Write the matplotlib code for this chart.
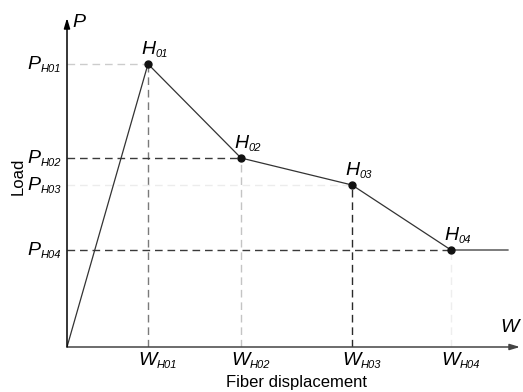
"""
load vs fiber displacement diagram with characteristic points H01..H04
"""
import matplotlib
matplotlib.use("Agg")
import matplotlib.pyplot as plt

# characteristic points (arbitrary units)
names = ["01", "02", "03", "04"]
w_vals = [0.81, 1.74, 2.85, 3.84]
p_vals = [2.83, 1.89, 1.62, 0.97]
w_end = 4.41      # plateau after H04
w_max = 4.53      # length of the W axis
p_max = 3.29      # length of the P axis

# shade of the guide lines (horizontal, vertical) per point
h_colors = ["#cccccc", "#3a3a3a", "#ececec", "#3a3a3a"]
v_colors = ["#7a7a7a", "#c4c4c4", "#2a2a2a", "#eeeeee"]

plt.rcParams["font.family"] = ["Liberation Sans", "DejaVu Sans"]
ITAL = ["Liberation Sans Narrow", "Liberation Sans", "DejaVu Sans"]
BIG, SMALL = 14, 8


def sym_label(ax, sym, sub, xy, off, align="left"):
    """italic symbol with a subscript, e.g. P_H01"""
    kw = dict(family=ITAL, style="italic", annotation_clip=False)
    if align == "right":
        s = ax.annotate(sub, xy, xytext=off, textcoords="offset points",
                        fontsize=SMALL, ha="right", va="bottom", **kw)
        ax.annotate(sym, (0, 0), xycoords=s, xytext=(-0.3, 0.5),
                    textcoords="offset points", fontsize=BIG,
                    ha="right", va="bottom", **kw)
    else:
        m = ax.annotate(sym, xy, xytext=off, textcoords="offset points",
                        fontsize=BIG, ha="left", va="bottom", **kw)
        ax.annotate(sub, (1, 0), xycoords=m, xytext=(0.3, -0.5),
                    textcoords="offset points", fontsize=SMALL,
                    ha="left", va="bottom", **kw)


fig = plt.figure(figsize=(5.23, 3.92), dpi=100)
ax = fig.add_axes([67 / 523, 45 / 392, (520 - 67) / 523, (347 - 18) / 392])
ax.set_xlim(0, w_max)
ax.set_ylim(0, p_max)
ax.axis("off")

# axes with arrow heads
arrow = dict(arrowstyle="-|>,head_length=0.6,head_width=0.18", lw=1.1,
             shrinkA=0, shrinkB=0)
ax.annotate("", xy=(w_max, 0), xytext=(0, 0), annotation_clip=False,
            arrowprops=dict(arrow, color="#444444"))
ax.annotate("", xy=(0, p_max), xytext=(0, 0), annotation_clip=False,
            arrowprops=dict(arrow, color="black"))

# guide lines
for w, p, hc, vc in zip(w_vals, p_vals, h_colors, v_colors):
    ax.plot([0, w], [p, p], ls=(0, (5.5, 3.5)), lw=1.0, color=hc, zorder=1)
    ax.plot([w, w], [0, p], ls=(0, (5.5, 3.5)), lw=1.0, color=vc, zorder=1)

# load curve
xs = [0] + w_vals + [w_end]
ys = [0] + p_vals + [p_vals[-1]]
ax.plot(xs, ys, color="#333333", lw=0.9, zorder=2)
ax.plot(w_vals, p_vals, "o", color="#111111", ms=5, zorder=3)

for w, p, n in zip(w_vals, p_vals, names):
    sym_label(ax, "H", n, (w, p), (-5, 4))
    sym_label(ax, "P", "H" + n, (0, p), (-4, -7), align="right")
    sym_label(ax, "W", "H" + n, (w, 0), (-7, -16))

ax.annotate("P", (0, p_max), xytext=(4, -3), textcoords="offset points",
            fontsize=BIG, family=ITAL, style="italic", ha="left", va="center",
            annotation_clip=False)
ax.annotate("W", (w_max, 0), xytext=(-14, 14), textcoords="offset points",
            fontsize=BIG, family=ITAL, style="italic", ha="left", va="center",
            annotation_clip=False)

fig.text(18 / 523, 1 - 176 / 392, "Load", rotation=90, fontsize=12,
         ha="center", va="center")
fig.text(297 / 523, 1 - 383 / 392, "Fiber displacement", fontsize=12,
         ha="center", va="center")

plt.savefig("out.png", dpi=100)
